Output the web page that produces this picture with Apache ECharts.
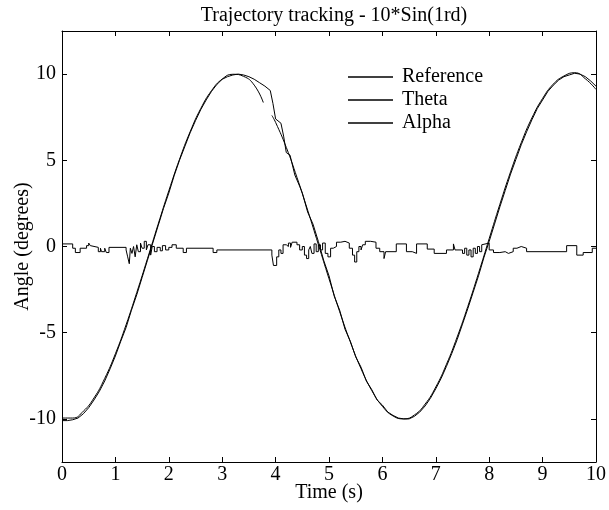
<!DOCTYPE html>
<html><head><meta charset="utf-8">
<script src="https://cdn.jsdelivr.net/npm/echarts@6/dist/echarts.min.js"></script>
<style>html,body{margin:0;padding:0;background:#fff}#c{width:609px;height:510px}</style>
</head><body><div id="c"></div>
<script>
const titleText = 'Trajectory tracking - 10*Sin(1rd)';
const xName = 'Time (s)';
const yName = 'Angle (degrees)';
const seriesNames = ['Reference', 'Theta', 'Alpha'];
const yTicks = [-10, -5, 0, 5, 10];

const refTime = [0,0.2,0.4,0.6,0.8,1.0,1.2,1.4,1.6,1.8,2.0,2.2,2.4,2.6,2.8,3.0,3.2,3.4,3.6,3.77,3.85,3.93,4.0,
  4.2,4.4,4.6,4.8,5.0,5.2,5.4,5.6,5.8,6.0,6.2,6.4,6.6,6.8,7.0,7.2,7.4,7.6,7.8,8.0,8.2,8.4,8.6,8.8,9.0,9.2,9.4,9.6,9.8,10.0];
const refValue = [-9.95,-9.95,-9.55,-8.78,-7.65,-6.22,-4.54,-2.67,-0.71,1.29,3.23,5.05,6.66,8.01,9.04,9.71,9.99,9.87,9.36,8.35,null,7.6,7.2,
  5.75,4.01,2.11,0.12,-1.87,-3.78,-5.54,-7.09,-8.35,-9.27,-9.83,-10.0,-9.77,-9.14,-8.15,-6.83,-5.25,-3.47,-1.55,0.46,2.45,4.33,6.02,7.46,8.59,9.42,9.89,10.08,9.73,9.11];

const thetaTime = [0,0.1,0.2,0.3,0.4,0.5,0.6,0.7,0.8,0.9,1.0,1.1,1.2,1.3,1.4,1.5,1.6,1.7,1.8,1.9,2.0,2.1,2.2,2.3,2.4,2.5,2.6,2.7,2.8,2.9,
  3.0,3.1,3.2,3.3,3.4,3.5,3.6,3.7,3.8,3.9,3.95,4.0,4.1,4.15,4.2,4.27,4.36,4.45,4.5,4.6,4.7,4.8,4.9,5.0,5.1,5.2,5.3,5.4,5.5,5.6,5.7,5.8,5.9,
  6.0,6.1,6.2,6.3,6.4,6.5,6.6,6.7,6.8,6.9,7.0,7.1,7.2,7.3,7.4,7.5,7.6,7.7,7.8,7.9,8.0,8.1,8.2,8.3,8.4,8.5,8.6,8.7,8.8,8.9,
  9.0,9.1,9.2,9.3,9.4,9.5,9.6,9.7,9.8,9.9,10.0];
const thetaValue = [-10.1,-10.1,-10.05,-9.95,-9.7,-9.35,-8.9,-8.4,-7.8,-7.1,-6.35,-5.5,-4.7,-3.7,-2.8,-1.8,-0.8,0.2,1.2,2.2,3.1,4.1,5.0,5.8,6.6,7.3,7.95,8.5,9.0,9.4,
  9.7,9.85,9.95,10.0,9.95,9.85,9.7,9.5,9.3,9.05,8.3,7.4,7.15,6.4,5.45,5.3,4.15,3.5,3.1,2.0,1.3,0.3,-0.8,-1.7,-2.9,-3.7,-4.8,-5.5,-6.4,-7.0,-7.8,-8.3,-8.9,
  -9.2,-9.6,-9.8,-9.95,-10.0,-10.0,-9.85,-9.6,-9.25,-8.8,-8.25,-7.65,-6.95,-6.2,-5.4,-4.5,-3.6,-2.65,-1.7,-0.65,0.3,1.3,2.3,3.25,4.2,5.05,5.9,6.65,7.35,8.0,
  8.5,9.0,9.35,9.65,9.85,9.95,10.05,10.0,9.85,9.6,9.3];

const alphaTime = [0,0.2,0.25,0.34,0.46,0.5,0.53,0.56,0.68,0.72,0.74,0.8,0.83,0.88,1.2,1.23,1.26,1.28,1.31,1.34,1.37,1.4,1.43,1.47,1.5,1.54,1.58,1.61,1.66,1.69,
  1.73,1.78,1.84,1.88,1.94,2.0,2.06,2.14,2.27,2.33,2.83,2.9,3.93,3.96,4.02,4.06,4.1,4.14,4.2,4.24,4.28,4.31,4.4,4.45,4.5,4.54,4.58,4.62,4.65,4.68,
  4.72,4.76,4.8,4.84,4.88,4.93,4.98,5.03,5.08,5.14,5.22,5.3,5.38,5.44,5.48,5.52,5.56,5.6,5.63,5.68,5.78,5.88,5.95,6.03,6.06,6.26,6.45,6.56,6.64,6.84,
  6.97,7.2,7.33,7.36,7.5,7.54,7.58,7.62,7.66,7.7,7.74,7.78,7.82,7.86,7.89,8.0,8.08,8.2,8.3,8.36,8.45,8.52,8.6,8.7,9.45,9.64,9.76,9.93,10.0];
const alphaValue = [0.15,-0.1,-0.35,-0.1,0.05,0.2,0.05,-0.05,-0.3,-0.1,-0.3,-0.1,-0.35,-0.05,-0.2,-0.6,-1.0,-0.1,-0.4,0.0,-0.6,0.1,-0.3,0.2,-0.1,0.3,-0.2,0.1,-0.5,0.0,
  -0.3,-0.05,-0.25,0.05,-0.2,-0.05,0.1,-0.1,-0.35,-0.1,-0.35,-0.2,-0.5,-1.1,-0.6,-0.2,-0.4,0.1,0.0,0.2,-0.05,0.25,0.1,-0.2,0.0,-0.5,-0.7,-0.2,0.0,-0.4,
  0.15,-0.3,0.1,-0.2,0.2,-0.4,-0.6,-0.1,0.0,0.25,0.3,0.2,-0.1,-0.5,-0.9,-0.3,0.0,-0.2,0.1,0.3,0.25,-0.1,-0.3,-0.7,-0.3,0.15,-0.3,-0.4,0.15,-0.15,
  -0.4,-0.2,0.15,-0.2,-0.4,-0.1,-0.5,-0.2,-0.6,-0.1,-0.4,0.0,-0.3,0.1,0.2,-0.2,-0.35,-0.3,-0.4,-0.3,-0.1,0.0,-0.1,-0.3,0.05,-0.5,-0.35,-0.1,-0.1];

function pairs(ts, vs) { return ts.map((t, i) => [t, vs[i] === null ? '-' : vs[i]]); }

const FONT = 'Liberation Serif';
const txt = { fontFamily: FONT, fontSize: 20, color: '#000' };
const axisLine = { onZero: false, lineStyle: { color: '#000', width: 1 } };
const tick = { inside: true, length: 5, lineStyle: { color: '#000', width: 1 } };

const chart = echarts.init(document.getElementById('c'), null, { renderer: 'canvas' });
chart.setOption({
  animation: false,
  backgroundColor: '#fff',
  title: { text: titleText, left: 329, textAlign: 'center', top: 1, textStyle: { fontFamily: FONT, fontSize: 20, fontWeight: 'normal', color: '#000' } },
  legend: {
    data: seriesNames, orient: 'vertical', left: 343, top: 61, itemWidth: 45, itemHeight: 1.5, itemGap: 1, icon: 'rect',
    textStyle: Object.assign({ lineHeight: 22, padding: [0, 0, 0, 4] }, txt)
  },
  grid: { left: 62, right: 13, top: 31, bottom: 48, containLabel: false, outerBoundsMode: 'none' },
  xAxis: [
    { type: 'value', min: 0, max: 10, interval: 1, position: 'bottom', name: xName, nameLocation: 'middle', nameGap: 21, nameMoveOverlap: false,
      nameTextStyle: txt, axisLine, axisTick: tick, axisLabel: Object.assign({ margin: 3 }, txt), splitLine: { show: false } },
    { type: 'value', min: 0, max: 10, interval: 1, position: 'top', axisLine, axisTick: tick, axisLabel: { show: false }, splitLine: { show: false } }
  ],
  yAxis: [
    { type: 'value', min: -12.5, max: 12.5, interval: 2.5, position: 'left', name: yName, nameLocation: 'middle', nameGap: 29, nameRotate: 90, nameMoveOverlap: false,
      nameTextStyle: txt, axisLine, axisTick: Object.assign({ customValues: yTicks }, tick),
      axisLabel: Object.assign({ margin: 6, customValues: yTicks }, txt), splitLine: { show: false } },
    { type: 'value', min: -12.5, max: 12.5, interval: 2.5, position: 'right', axisLine, axisTick: Object.assign({ customValues: yTicks }, tick),
      axisLabel: { show: false }, splitLine: { show: false } }
  ],
  series: [
    { name: seriesNames[0], type: 'line', data: pairs(refTime, refValue), smooth: true, showSymbol: false, symbol: 'none', connectNulls: false,
      lineStyle: { color: '#000', width: 1 }, itemStyle: { color: '#000' } },
    { name: seriesNames[1], type: 'line', data: pairs(thetaTime, thetaValue), showSymbol: false, symbol: 'none',
      lineStyle: { color: '#000', width: 1 }, itemStyle: { color: '#000' } },
    { name: seriesNames[2], type: 'line', step: 'end', data: pairs(alphaTime, alphaValue), showSymbol: false, symbol: 'none',
      lineStyle: { color: '#000', width: 1 }, itemStyle: { color: '#000' } }
  ]
});
</script></body></html>
